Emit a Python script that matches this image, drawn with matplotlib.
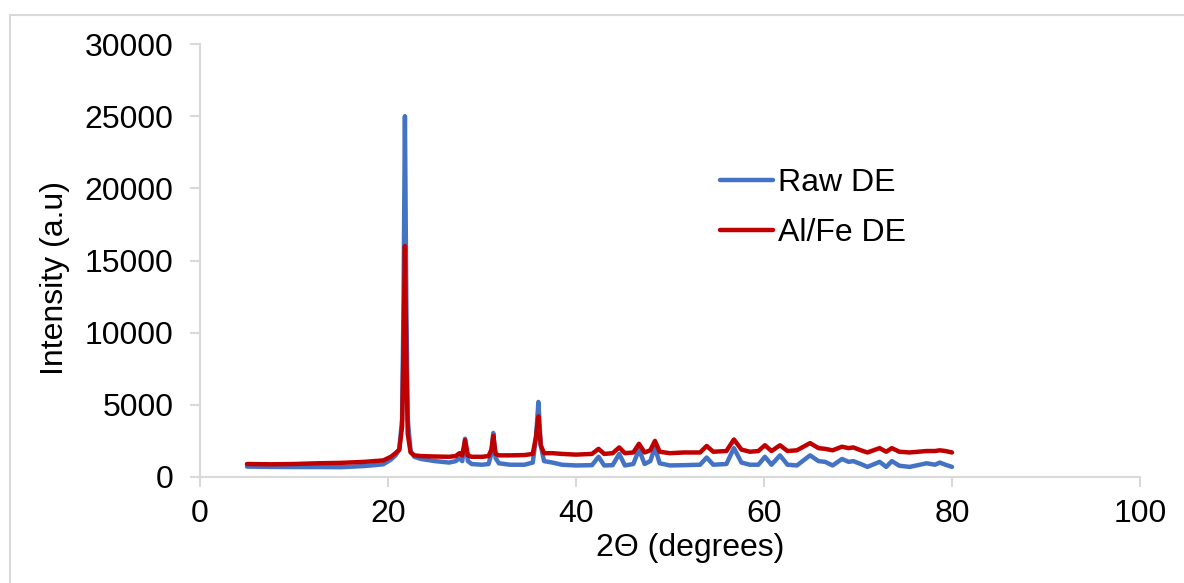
import matplotlib
matplotlib.use("Agg")
import matplotlib.pyplot as plt
from matplotlib.patches import Rectangle

plt.rcParams['font.family'] = ['Liberation Sans', 'DejaVu Sans']

# Diffraction angle (degrees 2-theta)
two_theta = [5.0, 7.5, 10, 12.5, 15, 17.5, 19.5, 20.3, 20.8, 21.2, 21.5, 21.65, 21.8,
             21.95, 22.1, 22.4, 22.8, 23.5, 25, 26.5, 27.2, 27.6, 27.9, 28.2, 28.5,
             28.9, 30.0, 30.7, 31.0, 31.2, 31.45, 31.8, 33, 34.5, 35.4, 35.75, 36.0,
             36.25, 36.6, 37.5, 38.5, 40, 41.7, 42.4, 43.0, 43.9, 44.6, 45.2, 46.1,
             46.7, 47.3, 47.9, 48.4, 48.9, 50, 51.5, 53.2, 53.9, 54.6, 56.0, 56.8,
             57.6, 58.5, 59.4, 60.1, 60.8, 61.7, 62.5, 63.5, 64.9, 65.8, 66.5, 67.3,
             68.3, 69.0, 69.5, 70.3, 71.0, 72.3, 73.0, 73.6, 74.4, 75.5, 77.3, 78.2,
             78.7, 79.3, 80.0]

# Raw diatomaceous earth
raw_de = [720, 700, 690, 690, 680, 760, 880, 1200, 1500, 1900, 4000, 12000, 25000,
          12000, 4000, 1800, 1400, 1250, 1100, 1000, 1100, 1300, 1100, 2650, 1100,
          900, 850, 900, 1600, 3050, 1300, 950, 850, 850, 1000, 2800, 5200,
          2200, 1100, 1000, 850, 800, 820, 1400, 800, 820, 1600, 800, 900,
          1900, 900, 1100, 2050, 950, 800, 820, 850, 1350, 850, 900, 2000,
          1000, 850, 850, 1400, 850, 1500, 850, 800, 1500, 1100, 1050, 800,
          1250, 1050, 1100, 900, 700, 1050, 700, 1100, 780, 700, 950, 850,
          1000, 850, 700]

# Al/Fe modified diatomaceous earth
alfe_de = [900, 880, 900, 950, 980, 1050, 1150, 1400, 1650, 1900, 3500, 9000, 16000,
           8000, 3000, 1700, 1500, 1450, 1420, 1400, 1450, 1650, 1500, 2550, 1500,
           1400, 1400, 1450, 1900, 2850, 1600, 1500, 1500, 1520, 1600, 2800, 4200,
           2200, 1650, 1650, 1600, 1550, 1600, 1950, 1600, 1650, 2050, 1650, 1700,
           2300, 1700, 1850, 2500, 1750, 1650, 1700, 1700, 2150, 1750, 1800, 2600,
           1900, 1750, 1800, 2200, 1800, 2200, 1800, 1850, 2350, 2000, 1950, 1850,
           2100, 2000, 2050, 1850, 1700, 2000, 1750, 2000, 1750, 1700, 1800, 1800,
           1850, 1800, 1700]

series_labels = ["Raw DE", "Al/Fe DE"]
x_ticks = [0, 20, 40, 60, 80, 100]
y_ticks = [0, 5000, 10000, 15000, 20000, 25000, 30000]

W, H = 1184, 583
FS = 23
fig = plt.figure(figsize=(W / 100, H / 100), dpi=100)

# light outer frame
fig.patches.append(Rectangle((10 / W, -0.05), 1.2, 1 - 15 / H + 0.05,
                             transform=fig.transFigure, fill=False,
                             edgecolor="#D9D9D9", linewidth=1.5))

ax = fig.add_axes([200 / W, 1 - 477 / H, 940 / W, (477 - 44) / H])

ax.plot(two_theta, raw_de, color="#4472C4", linewidth=3.2, label=series_labels[0],
        solid_joinstyle="round", solid_capstyle="round")
ax.plot(two_theta, alfe_de, color="#C00000", linewidth=3.2, label=series_labels[1],
        solid_joinstyle="round", solid_capstyle="round")

ax.set_xlim(0, 100)
ax.set_ylim(0, 30000)
ax.set_xticks(x_ticks)
ax.set_yticks(y_ticks)

for side in ("top", "right"):
    ax.spines[side].set_visible(False)
for side in ("left", "bottom"):
    ax.spines[side].set_color("#D9D9D9")
    ax.spines[side].set_linewidth(1.5)

ax.tick_params(axis="both", direction="out", length=7, width=1.5, color="#D9D9D9",
               labelsize=FS, labelcolor="black")
ax.tick_params(axis="y", pad=12)
ax.tick_params(axis="x", pad=9)

fig.text(55 / W, 1 - 278 / H, "Intensity (a.u)", rotation=90, fontsize=FS,
         ha="center", va="center")
fig.text(690 / W, 1 - 548 / H, "2Θ (degrees)", fontsize=FS, ha="center", va="center")

ax.legend(loc="upper left", bbox_to_anchor=(720 / W, 1 - 168 / H),
          bbox_transform=fig.transFigure, frameon=False, fontsize=FS,
          handlelength=1.66, handletextpad=0.17, labelspacing=0.64, borderpad=0,
          borderaxespad=0)

fig.savefig("out.png", dpi=100)
